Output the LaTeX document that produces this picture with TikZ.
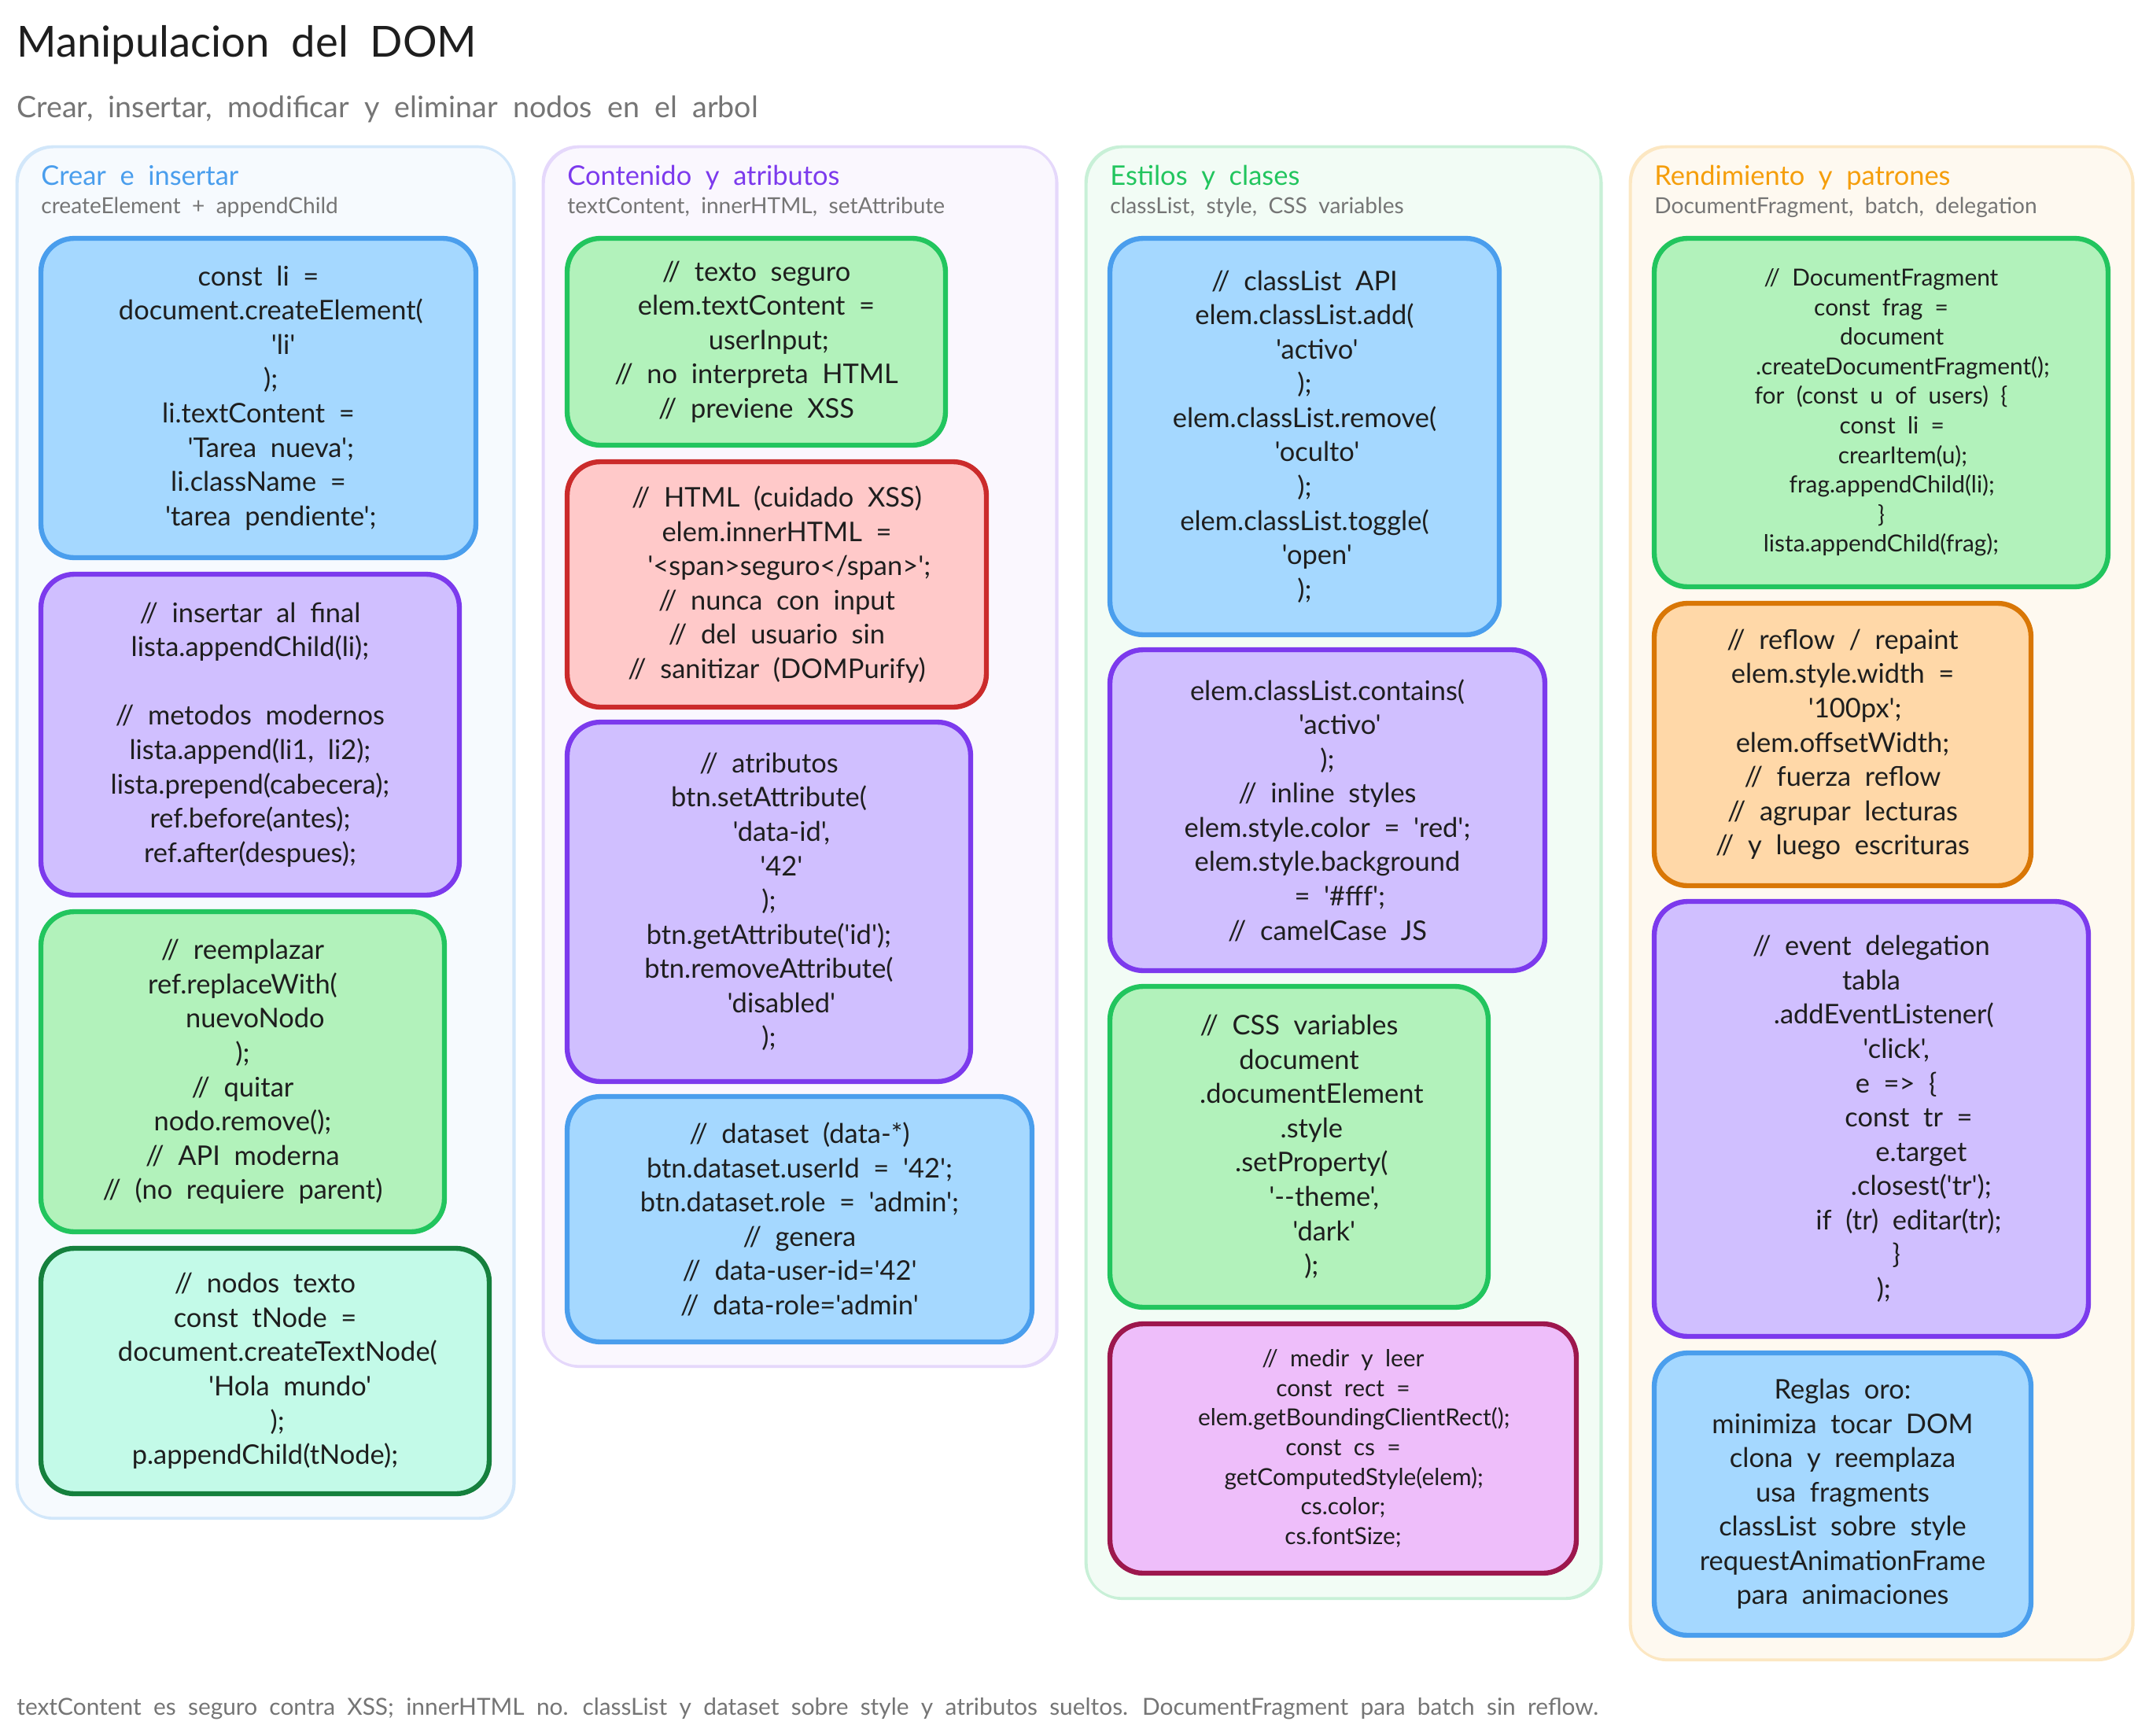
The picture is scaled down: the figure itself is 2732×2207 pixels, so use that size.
\documentclass[tikz,border=0pt]{standalone}
\usepackage{fontspec}
\newfontfamily\handfont[WordSpace=2]{Lato}

\definecolor{inkdark}{HTML}{1E1E1E}
\definecolor{inkgray}{HTML}{757575}
\definecolor{blueline}{HTML}{4A9EED}
\definecolor{bluefill}{HTML}{A5D8FF}
\definecolor{purpleline}{HTML}{7C3AED}
\definecolor{purplefill}{HTML}{D0BFFF}
\definecolor{greenline}{HTML}{22C55E}
\definecolor{greenfill}{HTML}{B2F2BB}
\definecolor{redline}{HTML}{CB2B2B}
\definecolor{redfill}{HTML}{FFC9C9}
\definecolor{mintline}{HTML}{15803D}
\definecolor{mintfill}{HTML}{C3FAE8}
\definecolor{orangeline}{HTML}{D97706}
\definecolor{orangefill}{HTML}{FFD8A8}
\definecolor{pinkline}{HTML}{9D174D}
\definecolor{pinkfill}{HTML}{EEBEFA}
\definecolor{amberline}{HTML}{F59E0B}

\newcommand{\ind}[1]{\hspace*{#1\dimexpr0.46em\relax}}

\tikzset{
	sketch/.style={postaction={draw, line width=1.2pt, transform canvas={xshift=0.9pt, yshift=-0.7pt}}},
	column/.style={draw=#1, line width=1.7pt, rounded corners=26pt, inner sep=0pt, sketch},
	codebox/.style={
		line width=3.6pt, rounded corners=24pt, inner sep=0pt, align=center, text=inkdark,
		font=\fontsize{19.6}{24.8}\handfont, sketch
	},
	smallbox/.style={font=\fontsize{17}{21.4}\handfont},
	bluebox/.style={codebox, draw=blueline, fill=bluefill},
	purplebox/.style={codebox, draw=purpleline, fill=purplefill},
	greenbox/.style={codebox, draw=greenline, fill=greenfill},
	redbox/.style={codebox, draw=redline, fill=redfill},
	mintbox/.style={codebox, draw=mintline, fill=mintfill},
	orangebox/.style={codebox, draw=orangeline, fill=orangefill},
	pinkbox/.style={codebox, draw=pinkline, fill=pinkfill},
	heading/.style={anchor=base west, inner sep=0pt, text=#1, font=\fontsize{19.6}{23}\handfont},
	subheading/.style={anchor=base west, inner sep=0pt, text=inkgray, font=\fontsize{16}{20}\handfont}
}

\begin{document}
\begin{tikzpicture}[x=0.02cm, y=-0.02cm]
	\useasboundingbox (0, 0) rectangle (2732, 2207);

	\node[anchor=base west, inner sep=0pt, text=inkdark, font=\fontsize{31}{36}\handfont] (title) at (21, 73) {Manipulacion del DOM};
	\node[anchor=base west, inner sep=0pt, text=inkgray, font=\fontsize{21.4}{26}\handfont] (subtitle) at (21, 150) {Crear, insertar, modificar y eliminar nodos en el arbol};

	% columns
	\node[column={blueline!25}, fill=blueline!5, minimum width=12.64cm, minimum height=34.88cm] (col1) at (337, 1058) {};
	\node[column={purpleline!20}, fill=purpleline!4, minimum width=13.06cm, minimum height=31.02cm] (col2) at (1016.5, 961.5) {};
	\node[column={greenline!25}, fill=greenline!6, minimum width=13.10cm, minimum height=36.92cm] (col3) at (1707.5, 1109) {};
	\node[column={amberline!25}, fill=amberline!6, minimum width=12.78cm, minimum height=38.48cm] (col4) at (2391.5, 1148) {};

	\node[heading=blueline] (head1) at (52, 235) {Crear e insertar};
	\node[subheading] (sub1) at (52, 271) {createElement + appendChild};
	\node[heading=purpleline] (head2) at (721, 235) {Contenido y atributos};
	\node[subheading] (sub2) at (721, 271) {textContent, innerHTML, setAttribute};
	\node[heading=greenline] (head3) at (1411, 235) {Estilos y clases};
	\node[subheading] (sub3) at (1411, 271) {classList, style, CSS variables};
	\node[heading=amberline] (head4) at (2103, 235) {Rendimiento y patrones};
	\node[subheading] (sub4) at (2103, 271) {DocumentFragment, batch, delegation};

	% crear e insertar
	\node[bluebox, minimum width=11.06cm, minimum height=8.12cm] (crear) at (328.5, 506) {
		const li =\\
		\ind{2}document.createElement(\\
		\ind{4}'li'\\
		\ind{2});\\
		li.textContent =\\
		\ind{2}'Tarea nueva';\\
		li.className =\\
		\ind{2}'tarea pendiente';};
	\node[purplebox, minimum width=10.64cm, minimum height=8.16cm] (insertar) at (318, 934) {
		// insertar al final\\
		lista.appendChild(li);\\
		\mbox{}\\
		// metodos modernos\\
		lista.append(li1, li2);\\
		lista.prepend(cabecera);\\
		ref.before(antes);\\
		ref.after(despues);};
	\node[greenbox, minimum width=10.26cm, minimum height=8.14cm] (reemplazar) at (308.5, 1362.5) {
		// reemplazar\\
		ref.replaceWith(\\
		\ind{2}nuevoNodo\\
		);\\
		// quitar\\
		nodo.remove();\\
		// API moderna\\
		// (no requiere parent)};
	\node[mintbox, minimum width=11.40cm, minimum height=6.24cm] (texto) at (337, 1743) {
		// nodos texto\\
		const tNode =\\
		\ind{2}document.createTextNode(\\
		\ind{4}'Hola mundo'\\
		\ind{2});\\
		p.appendChild(tNode);};

	% contenido y atributos
	\node[greenbox, minimum width=9.62cm, minimum height=5.26cm] (seguro) at (961.5, 434.5) {
		// texto seguro\\
		elem.textContent =\\
		\ind{2}userInput;\\
		// no interpreta HTML\\
		// previene XSS};
	\node[redbox, minimum width=10.66cm, minimum height=6.24cm] (cuidado) at (987.5, 743) {
		// HTML (cuidado XSS)\\
		elem.innerHTML =\\
		\ind{2}'<span>seguro</span>';\\
		// nunca con input\\
		// del usuario sin\\
		// sanitizar (DOMPurify)};
	\node[purplebox, minimum width=10.26cm, minimum height=9.14cm] (atributos) at (977.5, 1146.5) {
		// atributos\\
		btn.setAttribute(\\
		\ind{2}'data-id',\\
		\ind{2}'42'\\
		);\\
		btn.getAttribute('id');\\
		btn.removeAttribute(\\
		\ind{2}'disabled'\\
		);};
	\node[bluebox, minimum width=11.82cm, minimum height=6.24cm] (dataset) at (1016.5, 1550) {
		// dataset (data-*)\\
		btn.dataset.userId = '42';\\
		btn.dataset.role = 'admin';\\
		// genera\\
		// data-user-id='42'\\
		// data-role='admin'};

	% estilos y clases
	\node[bluebox, minimum width=9.90cm, minimum height=10.08cm] (classlist) at (1658.5, 555) {
		// classList API\\
		elem.classList.add(\\
		\ind{2}'activo'\\
		);\\
		elem.classList.remove(\\
		\ind{2}'oculto'\\
		);\\
		elem.classList.toggle(\\
		\ind{2}'open'\\
		);};
	\node[purplebox, minimum width=11.06cm, minimum height=8.16cm] (inline) at (1687.5, 1030) {
		elem.classList.contains(\\
		\ind{2}'activo'\\
		);\\
		// inline styles\\
		elem.style.color = 'red';\\
		elem.style.background\\
		\ind{2}= '\#fff';\\
		// camelCase JS};
	\node[greenbox, minimum width=9.62cm, minimum height=8.16cm] (variables) at (1651.5, 1458) {
		// CSS variables\\
		document\\
		\ind{2}.documentElement\\
		\ind{2}.style\\
		\ind{2}.setProperty(\\
		\ind{4}'--theme',\\
		\ind{4}'dark'\\
		\ind{2});};
	\node[pinkbox, smallbox, minimum width=11.86cm, minimum height=6.34cm] (medir) at (1707.5, 1841.5) {
		// medir y leer\\
		const rect =\\
		\ind{2}elem.getBoundingClientRect();\\
		const cs =\\
		\ind{2}getComputedStyle(elem);\\
		cs.color;\\
		cs.fontSize;};

	% rendimiento y patrones
	\node[greenbox, smallbox, minimum width=11.54cm, minimum height=8.86cm] (fragmento) at (2391.5, 524.5) {
		// DocumentFragment\\
		const frag =\\
		\ind{2}document\\
		\ind{4}.createDocumentFragment();\\
		for (const u of users) \{\\
		\ind{2}const li =\\
		\ind{4}crearItem(u);\\
		\ind{2}frag.appendChild(li);\\
		\}\\
		lista.appendChild(frag);};
	\node[orangebox, minimum width=9.58cm, minimum height=7.18cm] (reflow) at (2342.5, 946.5) {
		// reflow / repaint\\
		elem.style.width =\\
		\ind{2}'100px';\\
		elem.offsetWidth;\\
		// fuerza reflow\\
		// agrupar lecturas\\
		// y luego escrituras};
	\node[purplebox, minimum width=11.04cm, minimum height=11.06cm] (delegation) at (2379, 1422.5) {
		// event delegation\\
		tabla\\
		\ind{2}.addEventListener(\\
		\ind{4}'click',\\
		\ind{4}e => \{\\
		\ind{6}const tr =\\
		\ind{8}e.target\\
		\ind{8}.closest('tr');\\
		\ind{6}if (tr) editar(tr);\\
		\ind{4}\}\\
		\ind{2});};
	\node[bluebox, minimum width=9.58cm, minimum height=7.18cm] (reglas) at (2342.5, 1899.5) {
		Reglas oro:\\
		minimiza tocar DOM\\
		clona y reemplaza\\
		usa fragments\\
		classList sobre style\\
		requestAnimationFrame\\
		para animaciones};

	\node[anchor=base west, inner sep=0pt, text=inkgray, font=\fontsize{17}{20}\handfont] (footer) at (21, 2180) {textContent es seguro contra XSS; innerHTML no. classList y dataset sobre style y atributos sueltos. DocumentFragment para batch sin reflow.};
\end{tikzpicture}
\end{document}
